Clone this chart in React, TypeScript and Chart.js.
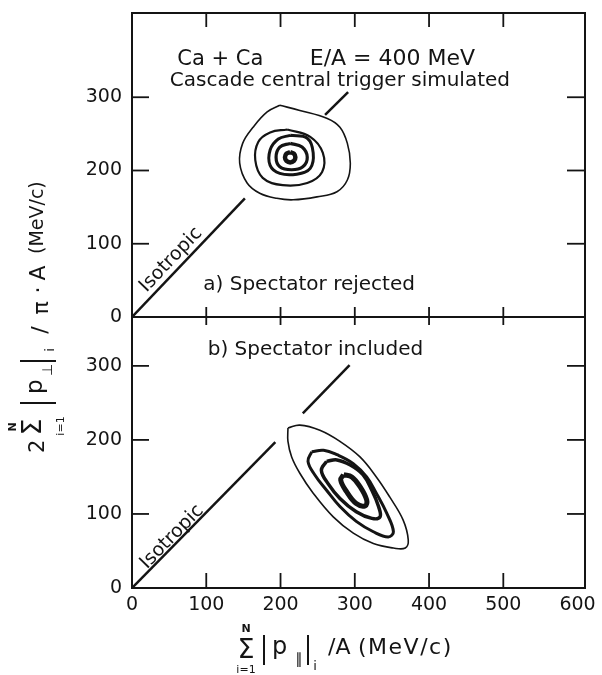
import React, { useEffect, useRef } from "react";
import { Chart, registerables } from "chart.js";

Chart.register(...registerables);

// ---------------- data ----------------
const xTickValues = [0, 100, 200, 300, 400, 500, 600];
const yTickValuesA = [0, 100, 200, 300];
const yTickValuesB = [0, 100, 200, 300];

// panel a) spectator rejected
const isotropicA1 = [[0, 0], [152, 162]];
const isotropicA2 = [[260, 276], [291, 307]];
const contourA1 = [[199, 289], [226, 282], [263, 271], [280, 259], [290, 237], [294, 210], [290, 187], [276, 171], [249, 164], [217, 160], [195, 162], [172, 169], [155, 183], [145, 210], [149, 237], [163, 259], [182, 280]];
const contourA2 = [[209, 256], [240, 246], [257, 224], [256, 198], [236, 183], [203, 180], [176, 190], [166, 214], [170, 239], [186, 252]];
const contourA3 = [[213, 248], [236, 244], [244, 224], [240, 203], [222, 195], [199, 196], [186, 207], [186, 228], [197, 243]];
const contourA4 = [[213, 237], [229, 232], [236, 218], [230, 205], [215, 201], [199, 205], [194, 218], [199, 232]];
const contourA5 = [[213, 225], [218, 223], [220, 218], [218, 213], [213, 211], [208, 213], [206, 218], [208, 223]];

// panel b) spectator included
const isotropicB1 = [[0, 0], [193, 197]];
const isotropicB2 = [[230, 236], [293, 301]];
const contourB1 = [[210, 216], [226, 220], [253, 213], [280, 198], [307, 177], [329, 150], [347, 123], [365, 92], [372, 65], [368, 54], [352, 54], [325, 60], [298, 74], [271, 96], [244, 128], [226, 155], [215, 177], [210, 198]];
const contourB2 = [[242, 184], [258, 186], [276, 180], [298, 168], [316, 150], [329, 128], [343, 101], [352, 76], [345, 69], [325, 76], [302, 90], [280, 110], [262, 132], [246, 153], [237, 171]];
const contourB3 = [[262, 171], [276, 173], [294, 166], [311, 153], [323, 132], [332, 110], [334, 96], [323, 94], [302, 103], [280, 121], [264, 141], [255, 159]];
const contourB4 = [[285, 153], [296, 150], [307, 137], [316, 119], [314, 111], [302, 114], [289, 130], [281, 146]];

// ---------------- text ----------------
const FONT = '"DejaVu Sans", "Liberation Sans", sans-serif';
const INK = "#141414";

type Label = { text: string; x: number; y: number; align: CanvasTextAlign; size: number };

const labelsA: Label[] = [
  { text: "Ca + Ca", x: 61, y: 344, align: "left", size: 21 },
  { text: "E/A = 400 MeV", x: 462, y: 344, align: "right", size: 22 },
  { text: "Cascade central trigger simulated", x: 51, y: 315, align: "left", size: 20 },
  { text: "a) Spectator rejected", x: 96, y: 37, align: "left", size: 20 },
];
const labelsB: Label[] = [{ text: "b) Spectator included", x: 102, y: 315, align: "left", size: 20 }];
const isoLabelA = { text: "Isotropic", x: 52.5, y: 78 };
const isoLabelB = { text: "Isotropic", x: 54, y: 69 };

// ---------------- helpers ----------------
const toPts = (arr: number[][], close: boolean) => {
  const p = arr.map(([x, y]) => ({ x, y }));
  if (close) p.push({ ...p[0] });
  return p;
};
const ds = (arr: number[][], w: number, close = true) => ({
  data: toPts(arr, close),
  showLine: true,
  borderColor: INK,
  backgroundColor: INK,
  borderWidth: w,
  pointRadius: 0,
  tension: close ? 0.4 : 0,
  fill: false,
});

function bar(ctx: CanvasRenderingContext2D, x1: number, y1: number, x2: number, y2: number) {
  ctx.beginPath();
  ctx.moveTo(x1, y1);
  ctx.lineTo(x2, y2);
  ctx.stroke();
}

function drawXTitle(ctx: CanvasRenderingContext2D) {
  ctx.save();
  ctx.fillStyle = INK;
  ctx.strokeStyle = INK;
  ctx.lineWidth = 2;
  ctx.textAlign = "center";
  ctx.textBaseline = "middle";
  ctx.font = `bold 11px ${FONT}`;
  ctx.fillText("N", 246, 629);
  ctx.font = `27px ${FONT}`;
  ctx.fillText("Σ", 246, 651);
  ctx.font = `11px ${FONT}`;
  ctx.fillText("i=1", 246, 670);
  bar(ctx, 264, 635, 264, 665);
  ctx.textAlign = "left";
  ctx.textBaseline = "alphabetic";
  ctx.font = `24px ${FONT}`;
  ctx.fillText("p", 272, 654);
  ctx.textAlign = "center";
  ctx.textBaseline = "middle";
  ctx.font = `15px ${FONT}`;
  ctx.fillText("∥", 299, 660);
  bar(ctx, 308, 635, 308, 665);
  ctx.font = `13px ${FONT}`;
  ctx.fillText("i", 315, 667);
  ctx.textAlign = "left";
  ctx.font = `22px ${FONT}`;
  ctx.fillText("/A", 328, 648);
  (ctx as any).letterSpacing = "1.5px";
  ctx.fillText("(MeV/c)", 358, 648);
  (ctx as any).letterSpacing = "0px";
  ctx.restore();
}

function drawYTitle(ctx: CanvasRenderingContext2D) {
  ctx.save();
  ctx.translate(38, 453);
  ctx.rotate(-Math.PI / 2);
  ctx.fillStyle = INK;
  ctx.strokeStyle = INK;
  ctx.lineWidth = 2;
  ctx.textBaseline = "middle";
  ctx.textAlign = "left";
  ctx.font = `21px ${FONT}`;
  ctx.fillText("2", 0, 1);
  ctx.textAlign = "center";
  ctx.font = `27px ${FONT}`;
  ctx.fillText("Σ", 26, -4);
  ctx.font = `bold 11px ${FONT}`;
  ctx.fillText("N", 26, -25);
  ctx.font = `11px ${FONT}`;
  ctx.fillText("i=1", 27, 23);
  bar(ctx, 50, -18, 50, 18);
  ctx.textAlign = "left";
  ctx.textBaseline = "alphabetic";
  ctx.font = `23px ${FONT}`;
  ctx.fillText("p", 59, 4);
  ctx.textAlign = "center";
  ctx.textBaseline = "middle";
  ctx.font = `14px ${FONT}`;
  ctx.fillText("⊥", 83, 10);
  bar(ctx, 92, -18, 92, 18);
  ctx.font = `13px ${FONT}`;
  ctx.fillText("i", 103, 13);
  ctx.font = `22px ${FONT}`;
  ctx.fillText("/", 123, 3);
  ctx.fillText("π", 145, 4);
  ctx.fillText("·", 163, 1);
  ctx.fillText("A", 180, 1);
  ctx.textAlign = "left";
  ctx.font = `19px ${FONT}`;
  ctx.fillText("(MeV/c)", 199, 0);
  ctx.restore();
}

function decoPlugin(cfg: any) {
  return {
    id: "deco" + cfg.id,
    afterDraw(chart: any) {
      const { ctx, chartArea: a } = chart;
      const xs = chart.scales.x;
      const ys = chart.scales.y;
      ctx.save();
      ctx.strokeStyle = INK;
      ctx.fillStyle = INK;
      ctx.lineWidth = 2;
      ctx.strokeRect(a.left, a.top, a.right - a.left, a.bottom - a.top);
      ctx.lineWidth = 1.8;
      const first = xTickValues[0];
      const last = xTickValues[xTickValues.length - 1];
      xTickValues.forEach((v) => {
        if (v <= first || v >= last) return;
        const px = xs.getPixelForValue(v);
        bar(ctx, px, a.top, px, a.top + cfg.topLen);
        bar(ctx, px, a.bottom, px, a.bottom - cfg.bottomLen);
      });
      cfg.yTicks.forEach((v: number) => {
        if (v === 0) return;
        const py = ys.getPixelForValue(v);
        bar(ctx, a.left, py, a.left + 17, py);
        bar(ctx, a.right, py, a.right - 18, py);
      });
      ctx.textBaseline = "alphabetic";
      cfg.labels.forEach((l: Label) => {
        ctx.font = `${l.size}px ${FONT}`;
        ctx.textAlign = l.align;
        ctx.fillText(l.text, xs.getPixelForValue(l.x), ys.getPixelForValue(l.y));
      });
      const [p0, p1] = cfg.isoLine;
      const ang = Math.atan2(
        ys.getPixelForValue(p1[1]) - ys.getPixelForValue(p0[1]),
        xs.getPixelForValue(p1[0]) - xs.getPixelForValue(p0[0])
      );
      ctx.save();
      ctx.translate(xs.getPixelForValue(cfg.iso.x), ys.getPixelForValue(cfg.iso.y));
      ctx.rotate(ang);
      ctx.textAlign = "center";
      ctx.textBaseline = "middle";
      ctx.font = `19px ${FONT}`;
      ctx.fillText(cfg.iso.text, 0, 0);
      ctx.restore();
      ctx.restore();
      if (cfg.titles) {
        drawXTitle(ctx);
        drawYTitle(ctx);
      }
    },
  };
}

const zeroPad = (s: any) => {
  s.paddingTop = 0;
  s.paddingBottom = 0;
  s.paddingLeft = 0;
  s.paddingRight = 0;
};

function makeConfig(panel: "A" | "B"): any {
  const isA = panel === "A";
  const datasets = isA
    ? [
        ds(isotropicA1, 2.5, false),
        ds(isotropicA2, 2.5, false),
        ds(contourA1, 1.6),
        ds(contourA2, 2.2),
        ds(contourA3, 3),
        ds(contourA4, 3.2),
        ds(contourA5, 4.5),
      ]
    : [
        ds(isotropicB1, 2.5, false),
        ds(isotropicB2, 2.5, false),
        ds(contourB1, 1.6),
        ds(contourB2, 3),
        ds(contourB3, 3.5),
        ds(contourB4, 5),
      ];
  const tickFont = { family: FONT, size: 19 };
  return {
    type: "scatter",
    data: { datasets },
    options: {
      responsive: false,
      animation: false,
      events: [],
      layout: {
        autoPadding: false,
        padding: isA
          ? { left: 72, right: 17, top: 13, bottom: 358 }
          : { left: 72, right: 17, top: 317, bottom: 47 },
      },
      plugins: { legend: { display: false }, tooltip: { enabled: false } },
      scales: {
        x: {
          type: "linear",
          min: 0,
          max: 610,
          display: !isA,
          afterBuildTicks: (s: any) => {
            s.ticks = xTickValues.map((v) => ({ value: v }));
          },
          afterFit: (s: any) => {
            zeroPad(s);
            if (!isA) s.height = 40;
          },
          grid: { display: false, drawTicks: false },
          border: { display: false },
          ticks: { padding: 6, maxRotation: 0, autoSkip: false, font: tickFont, color: INK },
        },
        y: {
          type: "linear",
          min: 0,
          max: isA ? 415 : 366,
          afterBuildTicks: (s: any) => {
            s.ticks = (isA ? yTickValuesA : yTickValuesB).map((v) => ({ value: v }));
          },
          afterFit: (s: any) => {
            zeroPad(s);
            s.width = 60;
          },
          grid: { display: false, drawTicks: false },
          border: { display: false },
          ticks: { padding: 10, font: tickFont, color: INK },
        },
      },
    },
    plugins: [
      decoPlugin(
        isA
          ? { id: "A", topLen: 14, bottomLen: 10, yTicks: yTickValuesA, labels: labelsA, iso: isoLabelA, isoLine: isotropicA1, titles: false }
          : { id: "B", topLen: 8, bottomLen: 15, yTicks: yTickValuesB, labels: labelsB, iso: isoLabelB, isoLine: isotropicB1, titles: true }
      ),
    ],
  };
}

export default function App() {
  const topRef = useRef<HTMLCanvasElement>(null);
  const botRef = useRef<HTMLCanvasElement>(null);
  useEffect(() => {
    const a = new Chart(topRef.current as HTMLCanvasElement, makeConfig("A"));
    const b = new Chart(botRef.current as HTMLCanvasElement, makeConfig("B"));
    return () => {
      a.destroy();
      b.destroy();
    };
  }, []);
  const cs: React.CSSProperties = { position: "absolute", left: 0, top: 0, width: 602, height: 675 };
  return (
    <div style={{ position: "absolute", left: 0, top: 0, width: 602, height: 675, background: "#fff" }}>
      <canvas ref={topRef} width={602} height={675} style={cs} />
      <canvas ref={botRef} width={602} height={675} style={cs} />
    </div>
  );
}
